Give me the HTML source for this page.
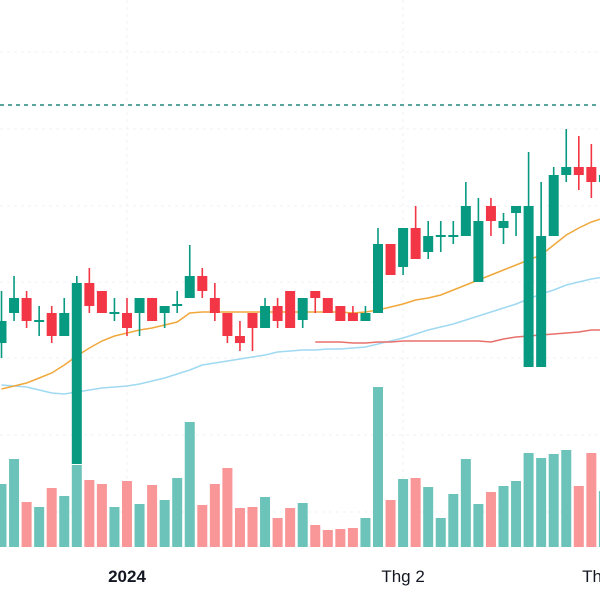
<!DOCTYPE html>
<html><head><meta charset="utf-8"><style>
html,body{margin:0;padding:0;background:#fff;}
svg{display:block;font-family:"Liberation Sans",sans-serif;}
</style></head><body>
<svg id="chart" width="600" height="600" viewBox="0 0 600 600">
<rect width="600" height="600" fill="#fff"/>
<g id="grid"></g>
<g id="vol"></g>
<g id="ma"></g>
<g id="candles"></g>
<line x1="0" y1="105" x2="600" y2="105" stroke="#22897e" stroke-width="1.5" stroke-dasharray="4,4"/>
<g id="xaxis"></g>
</svg>
<script>
const opens=[25.7,28.7,30.2,27.8,28.7,26.4,13.6,31.7,30.9,28.6,28.7,28.7,30.2,28.7,29.4,30.2,32.4,30.2,28.7,26.4,28.7,27.2,29.4,30.9,28.0,30.9,30.2,29.4,28.7,27.9,28.7,35.6,33.3,37.2,34.8,36.3,36.3,36.4,31.8,39.4,37.2,38.7,23.3,23.3,36.4,42.5,43.3,43.3,41.8];
const highs=[30.9,32.4,30.9,29.4,29.4,30.2,32.4,33.2,30.9,30.2,30.2,30.2,30.2,29.4,30.9,35.5,33.2,31.7,28.7,27.9,28.7,30.2,30.2,30.9,30.2,30.9,30.2,29.4,29.4,29.4,37.2,35.6,37.2,39.4,37.9,37.9,37.9,41.8,40.2,40.2,38.7,39.4,44.8,41.8,43.3,47.1,46.4,45.6,43.3];
const lows=[24.2,27.9,27.2,26.4,25.7,26.4,13.6,28.7,28.7,27.9,26.4,26.4,27.9,27.2,28.7,30.2,30.2,27.9,25.7,24.9,24.9,27.2,27.2,27.2,27.2,28.7,28.7,27.9,27.9,27.9,28.7,32.5,32.5,34.1,34.1,34.8,35.6,36.4,31.8,36.4,35.6,36.4,23.3,23.3,36.4,41.8,41.0,40.2,41.0];
const closes=[27.9,30.2,27.9,28.0,26.4,28.7,31.7,29.4,28.7,28.8,27.2,30.2,27.9,29.4,29.6,32.4,30.9,28.7,26.4,25.7,27.2,29.4,27.9,27.2,30.2,30.2,28.7,27.9,27.9,28.7,35.6,32.5,37.2,34.1,36.4,36.5,36.5,39.4,37.9,37.9,37.9,39.4,39.4,36.4,42.5,43.3,42.5,41.8,42.5];
const volumes=[63,88,45,40,59,51,82,67,63,40,66,43,62,47,69,125,42,63,79,39,40,50,29,39,44,22,17,18,19,29,160,47,68,69,60,29,53,88,43,55,61,66,94,89,93,97,61,94,56];
const volUp=[1,1,0,1,0,1,1,0,0,1,0,1,0,1,1,1,0,0,0,0,0,1,0,0,1,0,0,0,0,1,1,0,1,0,1,1,1,1,1,0,1,1,1,1,1,1,0,0,1];
const ma20=[21.1,21.4,21.7,22.2,22.7,23.5,24.4,25.2,25.9,26.4,26.7,27.0,27.2,27.5,27.8,28.7,28.8,28.8,28.8,28.8,28.8,28.8,28.8,28.8,28.8,28.8,28.8,28.8,28.7,28.8,29.0,29.3,29.6,30.0,30.2,30.5,31.0,31.5,32.0,32.5,33.0,33.5,34.0,34.5,35.5,36.5,37.2,37.8,38.2];
const ma50=[21.5,21.4,21.3,21.0,20.7,20.6,20.8,21.0,21.2,21.3,21.4,21.6,21.9,22.2,22.6,23.0,23.5,23.7,23.9,24.1,24.3,24.5,24.8,24.9,25.0,25.0,25.1,25.1,25.2,25.3,25.6,25.9,26.2,26.6,27.0,27.3,27.6,28.0,28.4,28.8,29.2,29.6,30.1,30.6,31.0,31.5,31.8,32.1,32.3];
const ma200=[null,null,null,null,null,null,null,null,null,null,null,null,null,null,null,null,null,null,null,null,null,null,null,null,null,25.8,25.8,25.8,25.7,25.7,25.8,25.8,25.9,25.9,25.9,25.9,25.9,25.9,25.9,25.8,26.1,26.3,26.4,26.5,26.6,26.7,26.8,27.0,27.0];
const xTicks=["2024","Thg 2","Thg 3"];
const xTickIdx=[10,32,48];
const xTickBold=[1,0,0];

const NS="http://www.w3.org/2000/svg";
function X(i){return 1.5+12.55*i;}
function Y(p){return 600-p*10;}
function VY(v){return 547-v;}
function mk(tag,attrs,parent){const e=document.createElementNS(NS,tag);for(const k in attrs)e.setAttribute(k,attrs[k]);parent.appendChild(e);return e;}

const grid=document.getElementById('grid');
[52,129,206,282,358,435,512].forEach(y=>{
  const l=mk('line',{x1:0,x2:600,y1:y,y2:y,stroke:'#eef0f3','stroke-dasharray':'3,4'},grid);
  
  
});
xTickIdx.forEach(i=>{
  const l=mk('line',{x1:X(i),x2:X(i),y1:0,y2:547,stroke:'#eef0f3','stroke-dasharray':'3,4'},grid);
  
  
});

const vol=document.getElementById('vol');
volumes.forEach((v,i)=>{
  const r=mk('rect',{x:X(i)-5,y:VY(v),width:10,height:v,fill:volUp[i]?'#6cc3b9':'#f99697'},vol);
  
  
});

const ma=document.getElementById('ma');
function line(arr,color,name){
  let d='';arr.forEach((v,i)=>{if(v==null)return;d+=(d?'L':'M')+X(i).toFixed(1)+','+Y(v).toFixed(1);});
  const p=mk('path',{d:d,fill:'none',stroke:color,'stroke-width':1.5},ma);
  
  
}
line(ma50,'#9fd9f2','ma-long-line');
line(ma200,'#e8706b','ma-200-line');
line(ma20,'#f0a83c','ma-short-line');

const cg=document.getElementById('candles');
opens.forEach((o,i)=>{
  const c=closes[i],up=c>=o,col=up?'#089981':'#f23645';
  const g=mk('g',{},cg);
  
  
  mk('line',{x1:X(i),x2:X(i),y1:Y(highs[i]),y2:Y(lows[i]),stroke:col,'stroke-width':1.6},g);
  const top=Y(Math.max(o,c)),bot=Y(Math.min(o,c));
  mk('rect',{x:X(i)-5,y:top,width:10,height:Math.max(2,bot-top),fill:col},g);
});

const xa=document.getElementById('xaxis');
xTicks.forEach((t,k)=>{
  const e=mk('text',{x:X(xTickIdx[k]),y:582,'text-anchor':'middle','font-size':17,fill:'#131722','font-weight':xTickBold[k]?'bold':'normal'},xa);
  e.textContent=t;
  
  
});
</script>
</body></html>
